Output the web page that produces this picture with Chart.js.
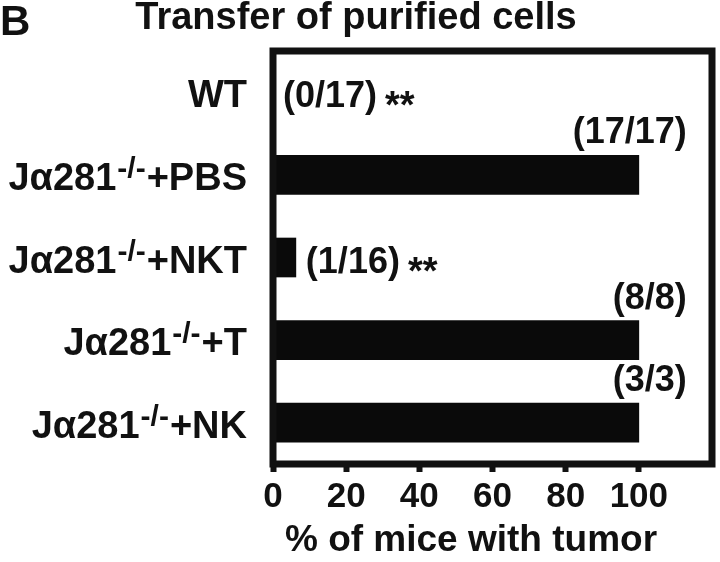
<!DOCTYPE html>
<html>
<head>
<meta charset="utf-8">
<title>Transfer of purified cells</title>
<script src="https://cdn.jsdelivr.net/npm/chart.js@4.4.1/dist/chart.umd.min.js"></script>
<style>
    html, body { margin: 0; padding: 0; background: #fff; }
    #wrap { width: 720px; height: 562px; position: relative; }
</style>
</head>
<body>
<div id="wrap"><canvas id="tumorChart"></canvas></div>
<script>
// Groups (top to bottom)
const categories = ['WT', 'Jα281-/-+PBS', 'Jα281-/-+NKT', 'Jα281-/-+T', 'Jα281-/-+NK'];
// % of mice with tumor
const tumorPercent = [0, 100, 6.25, 100, 100];
// mice with tumor / total mice
const fractions = ['(0/17)', '(17/17)', '(1/16)', '(8/8)', '(3/3)'];
const significance = ['**', '', '**', '', ''];
const xTicks = [0, 20, 40, 60, 80, 100];
const xTitle = '% of mice with tumor';

const FONT = '"Liberation Sans", Arial, Helvetica, sans-serif';
const INK = '#111';

// Frame around the plot area
const framePlugin = {
    id: 'frame',
    afterDatasetsDraw(chart) {
        const { ctx, chartArea: a } = chart;
        ctx.save();
        ctx.strokeStyle = INK;
        ctx.lineWidth = 7;
        ctx.strokeRect(a.left, a.top, a.right - a.left, a.bottom - a.top);
        ctx.restore();
    }
};

// Count labels next to / above each bar
const countLabels = {
    id: 'countLabels',
    afterDatasetsDraw(chart) {
        const { ctx } = chart;
        const meta = chart.getDatasetMeta(0);
        ctx.save();
        ctx.fillStyle = INK;
        meta.data.forEach((bar, i) => {
            ctx.font = `bold 36px ${FONT}`;
            ctx.textBaseline = 'alphabetic';
            if (tumorPercent[i] >= 50) {
                ctx.textAlign = 'right';
                ctx.fillText(fractions[i], bar.x + 48, bar.y - bar.height / 2 - 12);
            } else {
                ctx.textAlign = 'left';
                const x0 = bar.x + 10;
                ctx.fillText(fractions[i], x0, bar.y + 15);
                if (significance[i]) {
                    const w = ctx.measureText(fractions[i]).width;
                    ctx.font = `bold 38px ${FONT}`;
                    ctx.fillText(significance[i], x0 + w + 8, bar.y + 26);
                }
            }
        });
        ctx.restore();
    }
};

// Category labels with superscript -/-, axis title and the panel letter
const categoryLabels = {
    id: 'categoryLabels',
    afterDraw(chart) {
        const { ctx } = chart;
        const yScale = chart.scales.y;
        const right = 247;
        ctx.save();
        ctx.fillStyle = INK;
        ctx.textBaseline = 'alphabetic';
        ctx.textAlign = 'left';
        const mainFont = `bold 38px ${FONT}`;
        const supFont = `bold 30px ${FONT}`;
        categories.forEach((label, i) => {
            const y = yScale.getPixelForValue(i) + 15;
            const parts = label.split('-/-');
            if (parts.length === 1) {
                ctx.font = mainFont;
                ctx.textAlign = 'right';
                ctx.fillText(label, right, y);
                ctx.textAlign = 'left';
                return;
            }
            ctx.font = mainFont;
            const wPre = ctx.measureText(parts[0]).width;
            const wPost = ctx.measureText(parts[1]).width;
            ctx.font = supFont;
            const wSup = ctx.measureText('-/-').width;
            let x = right - wPost - wSup - wPre - 2;
            ctx.font = mainFont;
            ctx.fillText(parts[0], x, y);
            x += wPre + 1;
            ctx.font = supFont;
            ctx.fillText('-/-', x, y - 12);
            x += wSup + 1;
            ctx.font = mainFont;
            ctx.fillText(parts[1], x, y);
        });

        // x axis title
        ctx.font = `bold 37px ${FONT}`;
        ctx.textAlign = 'center';
        ctx.fillText(xTitle, 471, 551);

        // panel letter
        ctx.textAlign = 'left';
        ctx.font = `bold 42px ${FONT}`;
        ctx.fillText('B', 0, 35);
        ctx.restore();
    }
};

const ctx = document.getElementById('tumorChart').getContext('2d');
new Chart(ctx, {
    type: 'bar',
    data: {
        labels: categories,
        datasets: [{
            data: tumorPercent,
            backgroundColor: '#0a0a0a',
            borderWidth: 0,
            barThickness: 39
        }]
    },
    options: {
        indexAxis: 'y',
        responsive: true,
        maintainAspectRatio: false,
        animation: false,
        layout: { padding: { left: 0, right: 8, top: 0, bottom: 0 } },
        plugins: {
            legend: { display: false },
            tooltip: { enabled: false },
            title: {
                display: true,
                text: 'Transfer of purified cells',
                color: INK,
                font: { family: FONT, size: 38, weight: 'bold', lineHeight: 1.0 },
                padding: { top: 0, bottom: 13 }
            }
        },
        scales: {
            x: {
                min: 0,
                max: 120,
                afterBuildTicks: scale => {
                    scale.ticks = xTicks.map(v => ({ value: v }));
                },
                ticks: {
                    color: INK,
                    font: { family: FONT, size: 35, weight: 'bold' },
                    padding: 4,
                    maxRotation: 0,
                    autoSkip: false
                },
                grid: {
                    drawOnChartArea: false,
                    drawTicks: true,
                    tickLength: 8,
                    tickWidth: 6,
                    tickColor: INK
                },
                border: { display: false },
                afterFit: scale => { scale.height = 98; }
            },
            y: {
                ticks: { display: false },
                grid: { display: false },
                border: { display: false },
                afterFit: scale => { scale.width = 273; }
            }
        }
    },
    plugins: [framePlugin, countLabels, categoryLabels]
});
</script>
</body>
</html>
